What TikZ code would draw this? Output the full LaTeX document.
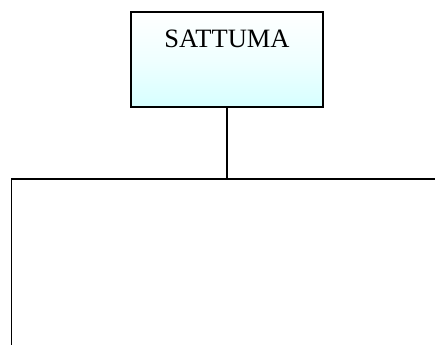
\documentclass[tikz,border=0pt]{standalone}
\usepackage{fontspec}
\setmainfont{Liberation Serif}
\begin{document}
\begin{tikzpicture}[x=1bp,y=1bp,
  boxstyle/.style={draw=black, line width=1.5bp, minimum width=192bp, minimum height=95bp,
    top color=white, bottom color=cyan!16, middle color=cyan!6, inner sep=0pt},
  wire/.style={draw=black, line width=1.5bp},
  lbl/.style={font=\fontsize{26.5bp}{30bp}\selectfont, inner sep=0pt, anchor=base}]
\useasboundingbox (0,0) rectangle (435,344);
\node[boxstyle] (s) at (227,284.6) {};
\node[lbl] (t) at (227,297) {SATTUMA};
\coordinate (j) at (227,165);
\coordinate (l) at (11.7,165);
\coordinate (r) at (436,165);
\coordinate (lb) at (11.7,-1);
\draw[wire] (s.south) -- (j);
\draw[wire] (lb) -- (l) -- (r);
\end{tikzpicture}
\end{document}
